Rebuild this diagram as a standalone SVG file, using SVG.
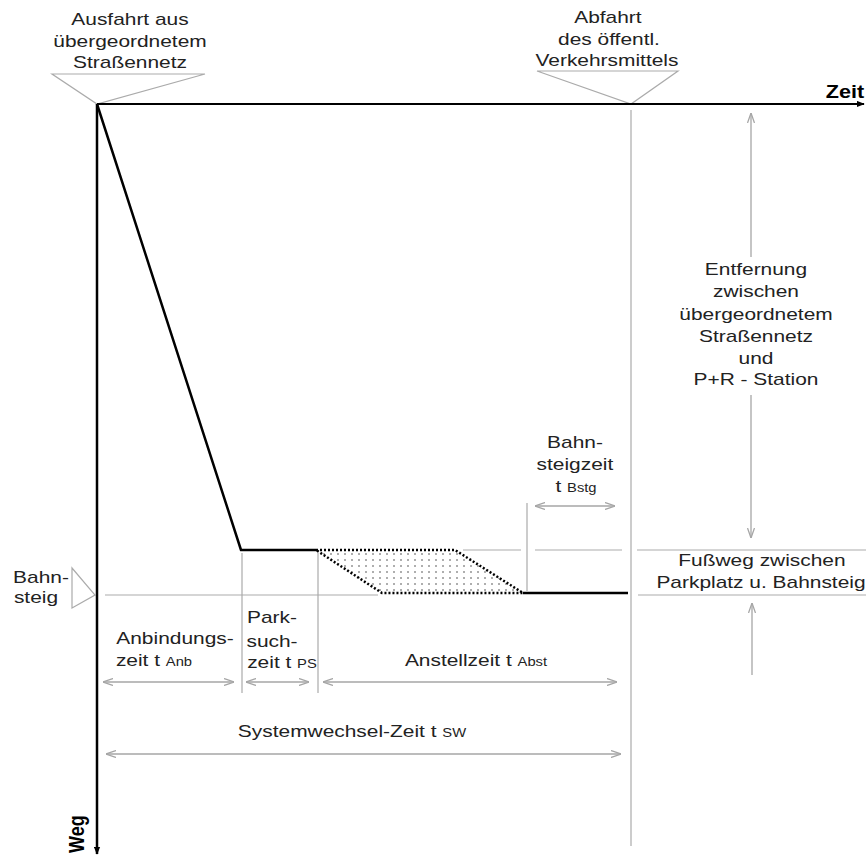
<svg xmlns="http://www.w3.org/2000/svg" width="866" height="856" viewBox="0 0 866 856">
<style>
.t{font-family:"Liberation Sans",Arial,sans-serif;font-size:17px;fill:#222;text-anchor:middle;transform-box:fill-box;transform-origin:center;transform:scaleX(1.23)}
.b{font-weight:bold;font-size:18px;fill:#000}
.g{stroke:#ababab;stroke-width:1.2;fill:none}
.ga{stroke:#a6a6a6;stroke-width:1.3;fill:none;marker-start:url(#os);marker-end:url(#oe)}
.gu{stroke:#a6a6a6;stroke-width:1.3;fill:none;marker-end:url(#oe)}
.k{stroke:#000;stroke-width:2.5;fill:none;stroke-linejoin:round}
</style>
<defs>
<marker id="oe" viewBox="0 0 10 8" refX="10" refY="4" markerWidth="10" markerHeight="8" markerUnits="userSpaceOnUse" orient="auto">
<path d="M0,0.5 L10,4 L0,7.5" fill="none" stroke="#a6a6a6" stroke-width="1.3"/>
</marker>
<marker id="os" viewBox="0 0 10 8" refX="0" refY="4" markerWidth="10" markerHeight="8" markerUnits="userSpaceOnUse" orient="auto">
<path d="M10,0.5 L0,4 L10,7.5" fill="none" stroke="#a6a6a6" stroke-width="1.3"/>
</marker>
<marker id="ax" viewBox="0 0 10 8" refX="9" refY="4" markerWidth="8" markerHeight="7" markerUnits="userSpaceOnUse" orient="auto">
<path d="M0,0 L10,4 L0,8 z" fill="#000"/>
</marker>
<pattern id="dots" width="7" height="6" patternUnits="userSpaceOnUse">
<circle cx="2" cy="2" r="0.75" fill="#333"/>
</pattern>
</defs>

<g id="guides">
<path class="g" d="M52,74 H205 L97,104 Z"/>
<path class="g" d="M537,71 H678 L631,104 Z"/>
<path class="g" d="M72,568 V608 L95,595 Z"/>
<path class="g" d="M105,595 H378 M638,595 H866"/>
<path class="g" d="M463,550 H521 M535,550 H622 M637,550 H866"/>
<path class="g" d="M242,553 V693 M318,553 V693 M527,503 V591 M631,110 V846"/>
</g>

<g id="axes">
<line x1="97" y1="104" x2="864" y2="104" stroke="#000" stroke-width="2" marker-end="url(#ax)"/>
<line x1="97" y1="104" x2="97" y2="854" stroke="#000" stroke-width="2.5" marker-end="url(#ax)"/>
<text class="b" x="845" y="98" style="font-family:'Liberation Sans',Arial,sans-serif;text-anchor:middle;transform-box:fill-box;transform-origin:center;transform:scaleX(1.2)">Zeit</text>
<text class="b" transform="translate(84,853) rotate(-90) scale(1,1.2)" x="0" y="0" style="font-family:'Liberation Sans',Arial,sans-serif">Weg</text>
</g>

<g id="trajectory">
<polyline class="k" points="97,104 241,550 316,550"/>
<path d="M316,550 L455,550 L523,593 L382,593 Z" fill="url(#dots)" stroke="#000" stroke-width="2.5" stroke-dasharray="2 2"/>
<line class="k" x1="523" y1="593" x2="628" y2="593"/>
</g>

<g id="connectors">
<line class="ga" x1="103" y1="682" x2="234" y2="682"/>
<line class="ga" x1="246" y1="682" x2="309" y2="682"/>
<line class="ga" x1="323" y1="682" x2="617" y2="682"/>
<line class="ga" x1="106" y1="754" x2="621" y2="754"/>
<line class="ga" x1="535" y1="506" x2="615" y2="506"/>
<line class="gu" x1="751" y1="257" x2="751" y2="113"/>
<line class="gu" x1="751" y1="395" x2="751" y2="538"/>
<line class="gu" x1="752" y1="675" x2="752" y2="603"/>
</g>

<g id="label-ausfahrt">
<text class="t" x="130" y="25">Ausfahrt aus</text>
<text class="t" x="130" y="47">übergeordnetem</text>
<text class="t" x="130" y="68">Straßennetz</text>
</g>

<g id="label-abfahrt">
<text class="t" x="608" y="23">Abfahrt</text>
<text class="t" x="609" y="45">des öffentl.</text>
<text class="t" x="607" y="66">Verkehrsmittels</text>
</g>

<g id="label-entfernung">
<text class="t" x="756" y="275">Entfernung</text>
<text class="t" x="756" y="297">zwischen</text>
<text class="t" x="756" y="320">übergeordnetem</text>
<text class="t" x="756" y="342">Straßennetz</text>
<text class="t" x="756" y="364">und</text>
<text class="t" x="756" y="385">P+R - Station</text>
</g>

<g id="label-fussweg">
<text class="t" x="762" y="566">Fußweg zwischen</text>
<text class="t" x="761" y="588">Parkplatz u. Bahnsteig</text>
</g>

<g id="label-bahnsteigzeit">
<text class="t" x="575" y="448">Bahn-</text>
<text class="t" x="575" y="470">steigzeit</text>
<text class="t" x="576" y="492">t <tspan font-size="12">Bstg</tspan></text>
</g>

<g id="label-bahnsteig">
<text class="t" x="41" y="583">Bahn-</text>
<text class="t" x="36" y="603">steig</text>
</g>

<g id="label-anbindung">
<text class="t" x="175" y="644">Anbindungs-</text>
<text class="t" x="154" y="666">zeit t <tspan font-size="12">Anb</tspan></text>
</g>

<g id="label-parksuch">
<text class="t" x="272" y="623">Park-</text>
<text class="t" x="272" y="647">such-</text>
<text class="t" x="282" y="668">zeit t <tspan font-size="12">PS</tspan></text>
</g>

<g id="label-anstell">
<text class="t" x="476" y="666">Anstellzeit t <tspan font-size="12">Abst</tspan></text>
</g>

<g id="label-systemwechsel">
<text class="t" x="352" y="737">Systemwechsel-Zeit t <tspan font-size="12">SW</tspan></text>
</g>
</svg>
